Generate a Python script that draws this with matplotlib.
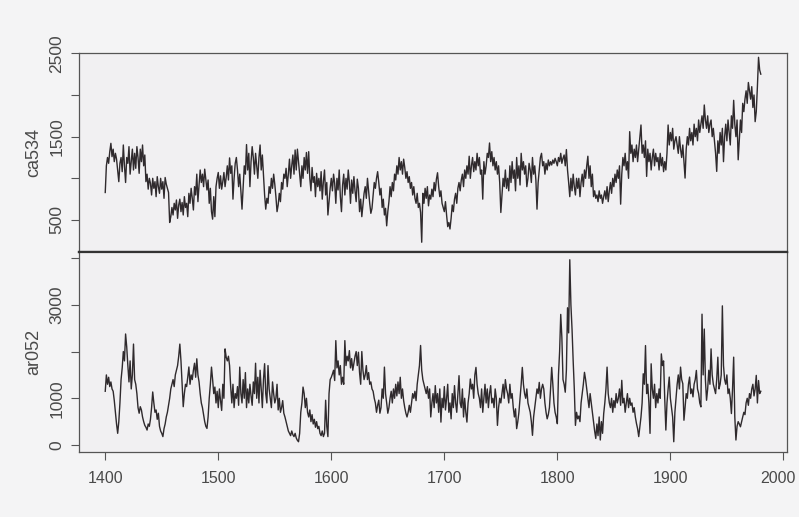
#!/usr/bin/env python3

import matplotlib
matplotlib.use('Agg')
import matplotlib.pyplot as plt
from matplotlib.transforms import ScaledTranslation
import numpy as np

START_YEAR = 1400

# ca534 chronology, one value per year from 1400
ca534 = [
    830, 1150, 1250, 1180, 1320, 1420, 1260, 1350, 1200, 1300,
    1230, 1100, 960, 1180, 1250, 1080, 1400, 1150, 950, 1250,
    1180, 1380, 1050, 1200, 1350, 1100, 1300, 1120, 1380, 1250,
    1060, 1350, 1200, 1400, 1150, 1280, 960, 1050, 870, 1000,
    940, 800, 1000, 880, 960, 780, 1020, 900, 820, 1000,
    870, 960, 760, 1010, 930, 880, 830, 470, 540, 650,
    560, 700, 620, 740, 520, 680, 750, 600, 710, 560,
    780, 650, 700, 540, 820, 700, 880, 760, 620, 900,
    800, 1050, 720, 920, 1100, 950, 1050, 900, 1110, 980,
    860, 980, 700, 880, 600, 510, 780, 540, 900, 1000,
    1070, 880, 1030, 870, 960, 1070, 900, 1010, 1150, 980,
    1245, 1060, 1150, 750, 1000, 1180, 1250, 1100, 900, 1050,
    850, 630, 900, 1150, 1050, 1405, 1100, 1300, 900, 1200,
    1380, 1250, 1050, 1300, 1150, 1000, 1250, 1400, 1100, 1280,
    1050, 800, 630, 760, 700, 900, 820, 1000, 880, 1050,
    930, 780, 600, 680, 820, 720, 950, 870, 1050, 1000,
    1120, 900, 1050, 1230, 1000, 1150, 1280, 1050, 1340, 1100,
    1350, 1200, 1050, 900, 1150, 1000, 1250, 1100, 1310, 1060,
    1320, 1000, 850, 1130, 950, 1020, 780, 1060, 900, 1000,
    850, 1080, 750, 960, 1100, 800, 950, 560, 720, 880,
    1000, 850, 1050, 940, 700, 1000, 860, 1100, 780, 600,
    920, 1050, 800, 1000, 870, 1100, 950, 700, 980, 820,
    1020, 850, 720, 990, 880, 600, 750, 540, 680, 820,
    900, 760, 1000, 850, 700, 580, 640, 800, 950, 880,
    1000, 1080, 950, 800, 880, 650, 750, 560, 640, 430,
    600, 720, 900, 780, 950, 850, 1050, 980, 1150, 1050,
    1250, 1100, 1200, 1050, 1230, 1130, 1000, 1080, 950, 1020,
    880, 950, 800, 900, 760, 700, 820, 650, 700, 590,
    233, 820, 700, 880, 760, 900, 670, 800, 750, 870,
    780, 950, 850, 990, 1067, 900, 780, 850, 700, 650,
    600, 720, 560, 420, 470, 392, 520, 680, 600, 750,
    820, 700, 880, 950, 850, 980, 1050, 900, 1100, 1000,
    1150, 1050, 1265, 1000, 1150, 1250, 1080, 1200, 1100, 1300,
    1150, 1250, 1050, 1100, 750, 1200, 1050, 1150, 1300, 1250,
    1424, 1200, 1320, 1150, 1250, 1100, 1200, 1050, 1150, 950,
    590, 800, 1000, 900, 1100, 880, 1000, 850, 1150, 950,
    1200, 1000, 1100, 850, 1250, 1000, 1150, 920, 1300, 1100,
    1200, 1050, 1150, 900, 1000, 1180, 1100, 950, 1250, 1050,
    1150, 980, 630, 950, 1100, 1250, 1300, 1150, 1200, 1050,
    1180, 1100, 1220, 1150, 1200, 1160, 1220, 1180, 1240, 1200,
    1150, 1250, 1200, 1300, 1180, 1240, 1280, 1150, 1345, 1100,
    950, 780, 1000, 850, 1050, 900, 800, 1000, 880, 1000,
    780, 950, 1050, 900, 1100, 1000, 1150, 1265, 1000, 1150,
    900, 1050, 780, 850, 760, 800, 720, 850, 760, 800,
    700, 780, 850, 750, 900, 720, 850, 950, 820, 1000,
    900, 1050, 950, 1100, 1000, 1150, 690, 1050, 1250, 1150,
    1300, 1100, 1200, 1000, 1560, 1300, 1400, 1200, 1350, 1250,
    1400, 1200, 1350, 1500, 1640, 1300, 1400, 1250, 1450, 1023,
    1350, 1200, 1300, 1100, 1250, 1350, 1150, 1300, 1200, 1250,
    1100, 1300, 1150, 1250, 1080, 1200, 1100, 1300, 1640, 1400,
    1550, 1450, 1600, 1350, 1450, 1500, 1400, 1300, 1500, 1350,
    1250, 1400, 1200, 1003, 1350, 1500, 1400, 1600, 1450, 1550,
    1400, 1650, 1500, 1600, 1450, 1700, 1550, 1650, 1750, 1600,
    1880, 1700, 1600, 1750, 1550, 1650, 1700, 1500, 1600, 1450,
    1300, 1083, 1450, 1300, 1550, 1400, 1600, 1200, 1500, 1650,
    1450, 1700, 1550, 1400, 1750, 1600, 1936, 1650, 1500, 1700,
    1222, 1450, 1700, 1550, 1900, 1800, 1950, 2050, 1900, 2150,
    2050, 1950, 2100, 1850, 2000, 1680, 1800, 2100, 2452, 2300,
    2250,
]

# ar052 chronology, one value per year from 1400
ar052 = [
    1150, 1500, 1300, 1450, 1250, 1350, 1200, 1150, 950, 700,
    450, 250, 500, 900, 1400, 1650, 2000, 1800, 2376, 2100,
    1700, 1350, 1800, 1200, 1500, 2160, 1400, 1300, 1100, 800,
    680, 820, 750, 600, 500, 420, 380, 320, 450, 400,
    550, 800, 1135, 900, 700, 750, 550, 680, 400, 300,
    250, 180, 350, 450, 600, 700, 850, 1000, 1200, 1300,
    1400, 1250, 1500, 1600, 1700, 1900, 2160, 1800, 1300, 820,
    1100, 1300, 1250, 1450, 1670, 1300, 1500, 1400, 1600, 1750,
    1450, 1845, 1500, 1350, 1100, 900, 800, 650, 500, 400,
    355, 600, 1000, 1300, 1667, 1400, 1100, 1240, 900, 1150,
    800, 1200, 950, 740, 1300, 1000, 2057, 1880, 1800, 1900,
    1700, 1240, 900, 1300, 800, 1100, 1000, 1250, 850, 1667,
    1100, 900, 1400, 1000, 1550, 800, 1200, 900, 1300, 1050,
    850, 1350, 1100, 1750, 1000, 1450, 900, 1600, 1200, 800,
    1400, 1740, 1100, 900, 1700, 1200, 1000, 800, 1350, 1100,
    900, 1000, 1300, 750, 1000, 700, 800, 950, 680, 600,
    500, 400, 300, 250, 200, 300, 220, 180, 250, 150,
    100, 70, 250, 700, 900, 1240, 1100, 800, 1000, 700,
    600, 750, 500, 650, 450, 550, 380, 500, 350, 400,
    250, 200, 300, 180, 250, 958, 400, 180, 1100, 1400,
    1450, 1520, 1600, 1380, 2234, 1650, 1800, 1500, 1700, 1300,
    1450, 1300, 2234, 1700, 1900, 1800, 2020, 1650, 1850, 1600,
    1750, 1900, 2000, 1700, 1985, 1550, 1300, 2000, 1600, 1400,
    1500, 1700, 1400, 1550, 1300, 1350, 1200, 1150, 1000, 900,
    700, 850, 960, 680, 800, 1200, 1000, 1667, 1100, 900,
    680, 800, 1000, 1150, 900, 1200, 1000, 1300, 1050, 1350,
    1100, 1450, 1000, 1200, 950, 800, 680, 600, 700, 850,
    700, 900, 1100, 1000, 1150, 950, 1300, 1500, 1700, 2130,
    1600, 1400, 1300, 1200, 1100, 1250, 1000, 1200, 600, 900,
    1100, 800, 1271, 900, 1100, 700, 1200, 490, 1000, 800,
    1250, 750, 1000, 1300, 700, 900, 560, 1100, 800, 1271,
    900, 700, 1100, 1484, 900, 800, 1200, 600, 1000, 700,
    490, 900, 1100, 1413, 1200, 1300, 1000, 1500, 1661, 1300,
    1100, 1000, 800, 1200, 700, 1000, 1300, 900, 1200, 800,
    1100, 1271, 900, 1000, 800, 1200, 1000, 420, 800, 1000,
    900, 1100, 1300, 1000, 1400, 1200, 1100, 900, 1300, 1000,
    1100, 800, 600, 775, 350, 500, 700, 1000, 1300, 1661,
    1300, 1100, 1000, 1200, 900, 800, 700, 500, 207, 600,
    800, 1000, 1200, 1100, 1340, 1000, 1200, 1300, 1200, 900,
    700, 560, 650, 800, 1200, 1661, 1300, 900, 700, 600,
    456, 1500, 2000, 2795, 2300, 1400, 1300, 1130, 1600, 2937,
    2400, 3965, 3000, 2476, 1800, 1200, 420, 700, 560, 620,
    500, 900, 1100, 1300, 1555, 1400, 1200, 1000, 800, 1100,
    900, 700, 490, 300, 140, 450, 200, 600, 107, 500,
    250, 670, 900, 1200, 1667, 1100, 900, 800, 1000, 700,
    950, 800, 1100, 900, 1000, 1200, 850, 1384, 900, 1000,
    700, 900, 1100, 800, 1000, 850, 900, 700, 800, 600,
    460, 350, 180, 400, 600, 900, 1525, 1300, 2128, 1100,
    1300, 900, 249, 1738, 1200, 1000, 1300, 800, 1100, 900,
    1200, 1000, 1950, 1700, 1800, 1000, 320, 900, 1200, 1454,
    1000, 800, 600, 70, 700, 1000, 1300, 1500, 1200, 1667,
    1400, 1312, 530, 800, 1100, 1000, 1300, 1454, 1100, 1200,
    1030, 1300, 1400, 1596, 1200, 1100, 900, 816, 2800, 1500,
    2482, 1400, 958, 1200, 1600, 1300, 2057, 1500, 1300, 1200,
    1100, 1400, 1880, 1200, 1300, 1500, 2978, 1700, 1400, 1300,
    1500, 1100, 1200, 1000, 673, 1200, 1880, 600, 107, 400,
    500, 450, 390, 500, 600, 700, 650, 900, 1000, 850,
    1100, 1000, 1200, 1300, 1050, 1200, 1490, 900, 1380, 1100,
    1150,
]

x_ticks = [1400, 1500, 1600, 1700, 1800, 1900, 2000]
ca534_ticks = [500, 1000, 1500, 2000, 2500]
ca534_labels = ['500', '', '1500', '', '2500']
ar052_ticks = [0, 1000, 2000, 3000, 4000]
ar052_labels = ['0', '1000', '', '3000', '']

LINE_COLOR = '#2f2a2d'
TEXT_COLOR = '#4a4a4a'


def style_axis(ax, ticks, labels, ylabel):
    ax.set_facecolor('#f1f0f2')
    ax.set_yticks(ticks)
    ax.set_yticklabels(labels, rotation=90, va='center')
    ax.tick_params(axis='y', direction='out', length=5.5, width=0.8,
                   color='#555555', labelcolor=TEXT_COLOR, labelsize=12.5,
                   pad=5)
    ax.set_ylabel(ylabel, fontsize=13, color=TEXT_COLOR, va='center')
    ax.yaxis.set_label_coords(-0.064, 0.5)
    for side in ('left', 'right', 'top', 'bottom'):
        ax.spines[side].set_color('#555555')
        ax.spines[side].set_linewidth(0.9)


def main():
    plt.rcParams['font.family'] = ['Liberation Sans', 'DejaVu Sans']

    top_vals = np.array(ca534, dtype=float)
    bot_vals = np.array(ar052, dtype=float)
    top_years = START_YEAR + np.arange(len(top_vals))
    bot_years = START_YEAR + np.arange(len(bot_vals))

    fig = plt.figure(figsize=(7.99, 5.17), dpi=100, facecolor='#f4f4f5')
    ax_top = fig.add_axes([0.0989, 0.5126, 0.8861, 0.3849])
    ax_bot = fig.add_axes([0.0989, 0.1257, 0.8861, 0.3868],
                          sharex=ax_top)

    ax_top.plot(top_years, top_vals, color=LINE_COLOR, lw=1.0)
    ax_bot.plot(bot_years, bot_vals, color=LINE_COLOR, lw=1.0)

    ax_top.set_xlim(1376.8, 2003.2)
    ax_top.set_ylim(116, 2504)
    ax_bot.set_ylim(-150, 4130)

    style_axis(ax_top, ca534_ticks, ca534_labels, 'ca534')
    style_axis(ax_bot, ar052_ticks, ar052_labels, 'ar052')

    # heavier rule between the two panels
    ax_top.spines['bottom'].set_linewidth(1.6)
    ax_top.spines['bottom'].set_color('#333333')
    ax_bot.spines['top'].set_linewidth(1.6)
    ax_bot.spines['top'].set_color('#333333')

    ax_top.tick_params(axis='x', bottom=False, labelbottom=False)
    ax_bot.set_xticks(x_ticks)
    ax_bot.tick_params(axis='x', direction='out', length=6, width=0.8,
                       color='#555555', labelcolor=TEXT_COLOR,
                       labelsize=11.5, pad=8)

    # nudge the last year label so it stays inside the figure edge
    last = ax_bot.xaxis.get_major_ticks()[-1].label1
    last.set_transform(last.get_transform()
                       + ScaledTranslation(-4 / 72, 0, fig.dpi_scale_trans))

    fig.savefig('out.png', dpi=100, facecolor=fig.get_facecolor())


if __name__ == '__main__':
    main()
